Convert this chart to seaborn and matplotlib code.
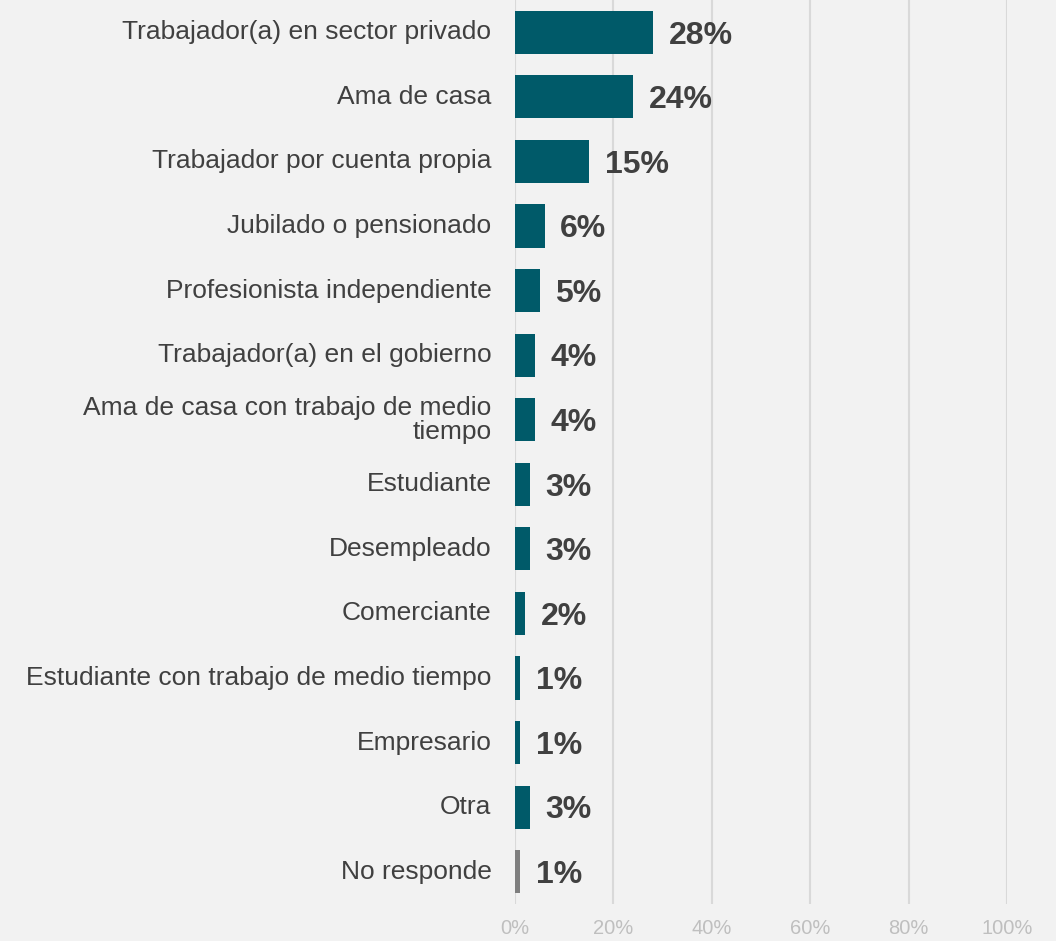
import matplotlib
matplotlib.use("Agg")
import matplotlib.pyplot as plt
import seaborn as sns
import pandas as pd
from matplotlib.ticker import PercentFormatter

# Data
categories = [
    "Trabajador(a) en sector privado",
    "Ama de casa",
    "Trabajador por cuenta propia",
    "Jubilado o pensionado",
    "Profesionista independiente",
    "Trabajador(a) en el gobierno",
    "Ama de casa con trabajo de medio\ntiempo",
    "Estudiante",
    "Desempleado",
    "Comerciante",
    "Estudiante con trabajo de medio tiempo",
    "Empresario",
    "Otra",
    "No responde",
]
values = [0.28, 0.24, 0.15, 0.06, 0.05, 0.04, 0.04, 0.03, 0.03, 0.02, 0.01, 0.01, 0.03, 0.01]
bar_colors = ["#005A69"] * 13 + ["#7F7F7F"]

df = pd.DataFrame({"categoria": categories, "valor": values})

sns.set_theme(style="whitegrid")
plt.rcParams["font.family"] = ["Liberation Sans", "DejaVu Sans"]

bg = "#F2F2F2"
fig = plt.figure(figsize=(10.56, 9.41), dpi=100, facecolor=bg)
ax = fig.add_axes([515 / 1056, 1 - 904 / 941, 492 / 1056, 904 / 941])
ax.set_facecolor(bg)

sns.barplot(data=df, x="valor", y="categoria", hue="categoria", palette=bar_colors,
            legend=False, orient="h", width=0.67, ax=ax, saturation=1, linewidth=0)

# Value labels
for i, v in enumerate(values):
    ax.text(v + 0.032, i + 0.05, f"{v * 100:.0f}%", va="center", ha="left",
            fontsize=23, fontweight="bold", color="#404040")

ax.set_xlim(0, 1)
ax.set_ylim(len(categories) - 0.5, -0.5)
ax.set_xticks([0, 0.2, 0.4, 0.6, 0.8, 1.0])
ax.xaxis.set_major_formatter(PercentFormatter(1.0, decimals=0))
ax.set_xlabel("")
ax.set_ylabel("")

ax.grid(axis="x", color="#D9D9D9", linewidth=1.5)
ax.grid(axis="y", visible=False)
ax.set_axisbelow(True)
for s in ax.spines.values():
    s.set_visible(False)

ax.tick_params(axis="x", colors="#BFBFBF", labelsize=14.5, length=0, pad=11)
ax.tick_params(axis="y", colors="#404040", labelsize=19, length=0, pad=17)
for lab in ax.get_yticklabels():
    lab.set_multialignment("right")
    lab.set_linespacing(1.0)
    lab.set_verticalalignment("center")

plt.savefig("out.png", dpi=100, facecolor=bg)
